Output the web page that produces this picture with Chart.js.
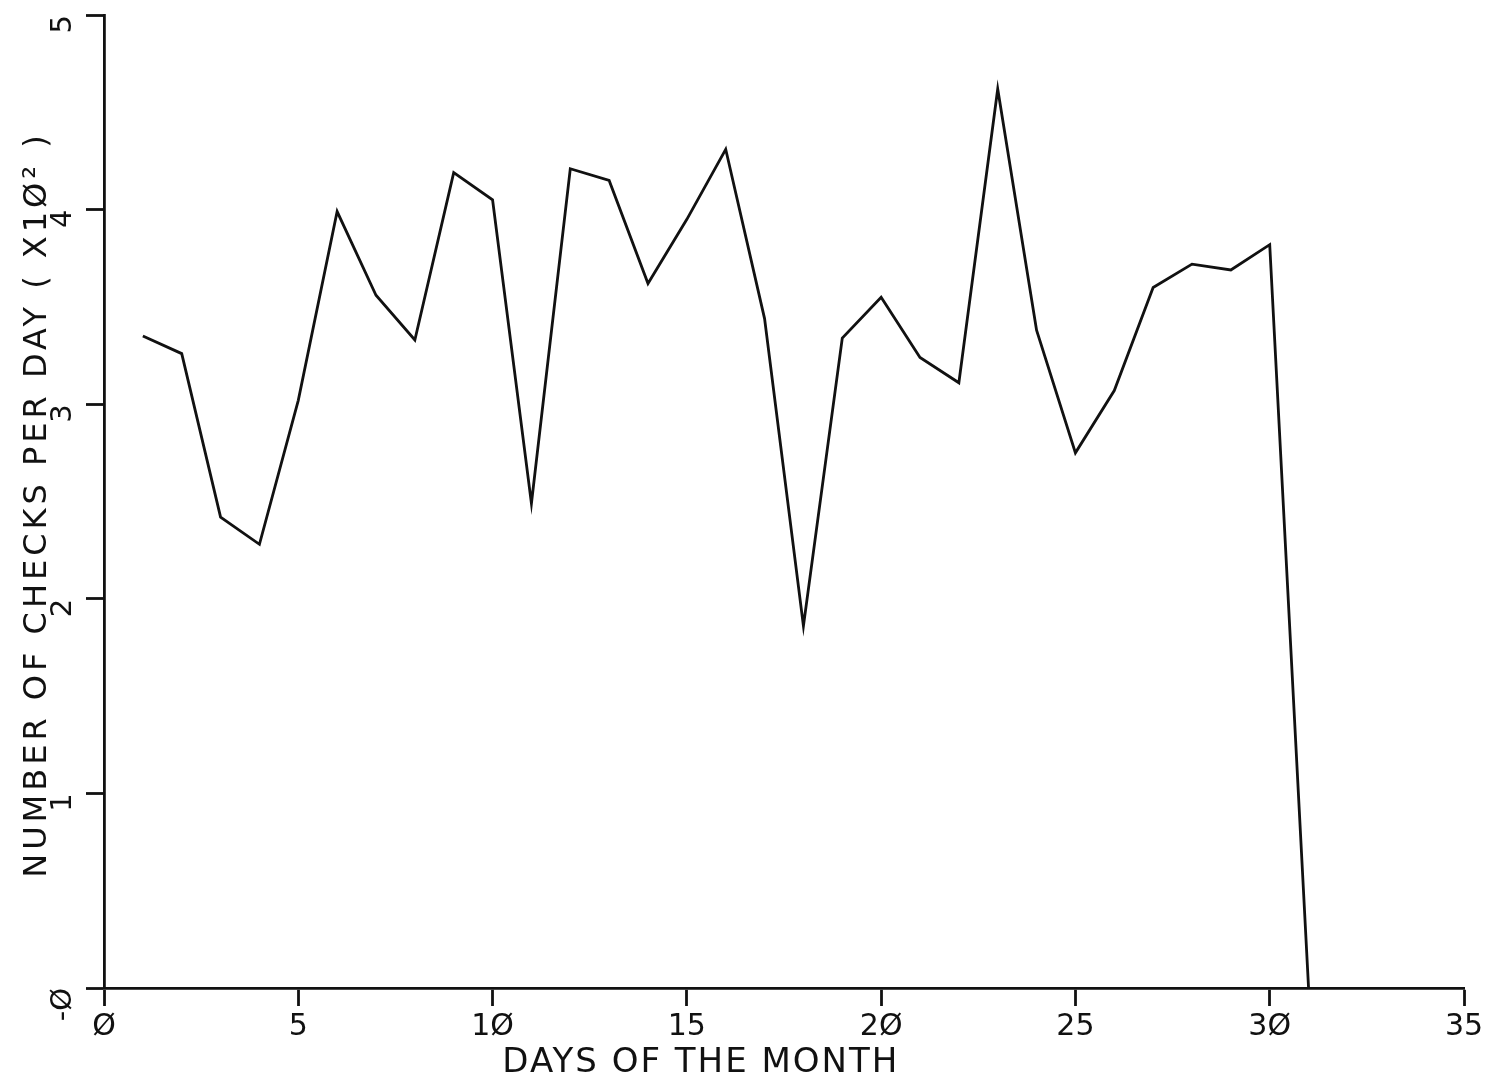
<!DOCTYPE html>
<html>
<head>
<meta charset="utf-8">
<title>Checks per day</title>
<script src="https://cdn.jsdelivr.net/npm/chart.js@4.4.1/dist/chart.umd.min.js"></script>
<style>
  html, body { margin: 0; padding: 0; background: #fff; }
  canvas { display: block; }
</style>
</head>
<body>
<canvas id="checks-chart" width="1489" height="1079"></canvas>
<script>
// days of the month and checks per day (hundreds)
const days = [1, 2, 3, 4, 5, 6, 7, 8, 9, 10, 11, 12, 13, 14, 15, 16,
              17, 18, 19, 20, 21, 22, 23, 24, 25, 26, 27, 28, 29, 30, 31];
const checks = [3.35, 3.26, 2.42, 2.28, 3.02, 3.99, 3.56, 3.33, 4.19, 4.05, 2.49,
                4.21, 4.15, 3.62, 3.95, 4.31, 3.44, 1.86, 3.34, 3.55, 3.24,
                3.11, 4.62, 3.38, 2.75, 3.07, 3.60, 3.72, 3.69, 3.82, 0];

const xTicks = [0, 5, 10, 15, 20, 25, 30, 35];
const yTicks = [0, 1, 2, 3, 4, 5];

const xTitle = 'DAYS OF THE MONTH';
const yTitle = 'NUMBER OF CHECKS PER DAY ( X1\u00d8\u00b2 )';

const ink = '#111';
const plotFont = '"DejaVu Sans", sans-serif';

// plotter style zero
function slashed(v) {
    return String(v).replace(/0/g, '\u00d8');
}

// Axis captions, drawn by hand so spacing and placement can be tuned
const axisCaptions = {
    id: 'axisCaptions',
    afterDraw(chart) {
        const { ctx, scales: { x, y } } = chart;
        ctx.save();
        ctx.fillStyle = ink;
        ctx.textBaseline = 'alphabetic';
        ctx.textAlign = 'center';

        ctx.font = '34px ' + plotFont;
        ctx.letterSpacing = '2px';
        ctx.fillText(xTitle, x.getPixelForValue(15.36), x.top + 84);

        ctx.font = '32px ' + plotFont;
        ctx.letterSpacing = '4px';
        ctx.translate(46, (y.top + y.bottom) / 2 + 3);
        ctx.rotate(-Math.PI / 2);
        ctx.fillText(yTitle, 0, 0);
        ctx.restore();
    }
};

const data = {
    datasets: [{
        label: 'Checks per day',
        data: days.map((d, i) => ({ x: d, y: checks[i] })),
        borderColor: ink,
        borderWidth: 2.8,
        pointRadius: 0,
        tension: 0,
        fill: false
    }]
};

new Chart(document.getElementById('checks-chart'), {
    type: 'line',
    data: data,
    plugins: [axisCaptions],
    options: {
        responsive: false,
        animation: false,
        layout: { padding: { top: 15, right: 25, left: 0, bottom: 0 } },
        plugins: {
            legend: { display: false },
            tooltip: { enabled: false }
        },
        scales: {
            x: {
                type: 'linear',
                min: 0,
                max: 35,
                afterBuildTicks: s => { s.ticks = xTicks.map(v => ({ value: v })); },
                afterFit: s => {
                    s.height = 91;
                    s.paddingLeft = 0;
                    s.paddingRight = 0;
                },
                grid: {
                    drawOnChartArea: false,
                    drawTicks: true,
                    tickLength: 18,
                    tickWidth: 2.8,
                    tickColor: ink
                },
                border: { display: true, color: ink, width: 2.8 },
                ticks: {
                    color: ink,
                    font: { family: plotFont, size: 30 },
                    padding: 3,
                    maxRotation: 0,
                    callback: v => slashed(v)
                }
            },
            y: {
                min: 0,
                max: 5,
                afterBuildTicks: s => { s.ticks = yTicks.map(v => ({ value: v })); },
                afterFit: s => {
                    s.width = 104;
                    s.paddingTop = 0;
                    s.paddingBottom = 0;
                },
                grid: {
                    drawOnChartArea: false,
                    drawTicks: true,
                    tickLength: 18,
                    tickWidth: 2.8,
                    tickColor: ink
                },
                border: { display: true, color: ink, width: 2.8 },
                ticks: {
                    color: ink,
                    font: { family: plotFont, size: 29 },
                    padding: 23,
                    minRotation: 90,
                    maxRotation: 90,
                    callback: v => (v === 0 ? '-\u00d8' : slashed(v))
                }
            }
        }
    }
});
</script>
</body>
</html>
